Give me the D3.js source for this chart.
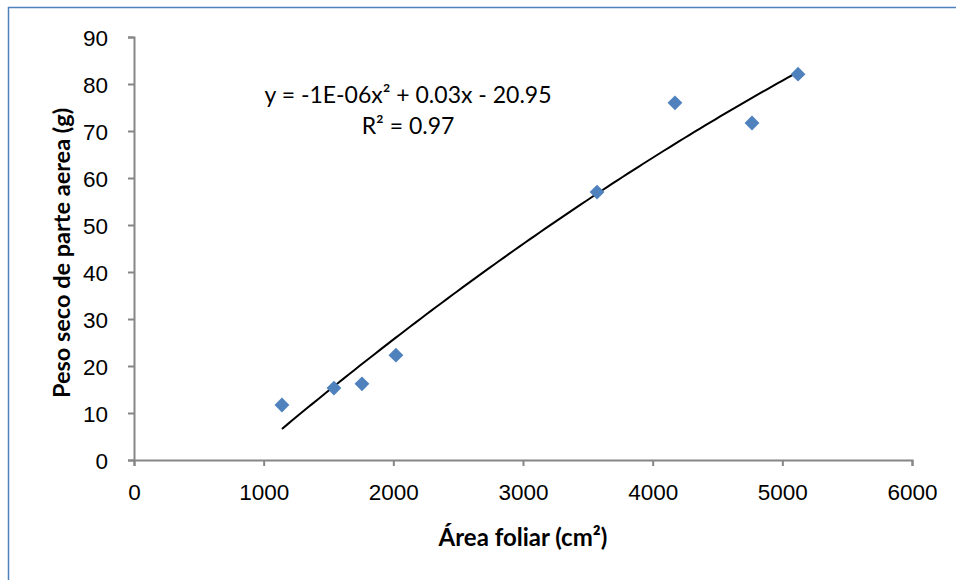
<!DOCTYPE html>
<html>
<head>
<meta charset="utf-8">
<script src="https://cdn.jsdelivr.net/npm/d3@7"></script>
<style>
  body { margin: 0; background: #fff; }
  svg { font-family: Lato, "Open Sans", sans-serif; }
</style>
</head>
<body>
<svg width="956" height="580"></svg>
<script>
// leaf area (cm2) vs shoot dry weight (g)
let areaFoliar = [1141, 1542, 1758, 2020, 3571, 4172, 4766, 5121];
let pesoSeco = [11.7, 15.3, 16.2, 22.3, 57.0, 76.0, 71.7, 82.1];
let xTicks = [0, 1000, 2000, 3000, 4000, 5000, 6000];
let yTicks = [0, 10, 20, 30, 40, 50, 60, 70, 80, 90];
let eqText = ['y = -1E-06x\u00b2 + 0.03x - 20.95', 'R\u00b2 = 0.97'];

let svg = d3.select('svg');
let w = 956, h = 580;
let padL = 134, padR = 912, padT = 37, padB = 460;
let axisColor = '#868686';
let blue = '#4f81bd';

// chart frame
svg.append('path')
  .attr('d', 'M8.5,' + h + 'V7.5H' + w)
  .attr('fill', 'none')
  .attr('stroke', blue)
  .attr('stroke-width', 1.5);

let xScale = d3.scaleLinear().domain([0, 6000]).range([padL, padR]);
let yScale = d3.scaleLinear().domain([0, 90]).range([padB, padT]);

let xAxis = d3.axisBottom(xScale).tickValues(xTicks).tickSize(6).tickPadding(18).tickFormat(d3.format('d'));
let yAxis = d3.axisLeft(yScale).tickValues(yTicks).tickSize(6).tickPadding(20).tickFormat(d3.format('d'));

let gx = svg.append('g')
  .attr('transform', 'translate(0,' + padB + ')')
  .call(xAxis);
let gy = svg.append('g')
  .attr('transform', 'translate(' + padL + ',0)')
  .call(yAxis);

[gx, gy].forEach(g => {
  g.select('.domain').attr('stroke', axisColor).attr('stroke-width', 2);
  g.selectAll('.tick line').attr('stroke', axisColor).attr('stroke-width', 2);
  g.selectAll('.tick text').attr('fill', '#000').attr('font-size', 22.5);
});
gy.selectAll('.tick text').attr('dy', '0.36em');

// quadratic least squares trendline
let n = areaFoliar.length;
let s = [0, 0, 0, 0, 0], t = [0, 0, 0];
for (let i = 0; i < n; i++) {
  let x = areaFoliar[i] / 1000, y = pesoSeco[i];
  for (let k = 0; k < 5; k++) s[k] += Math.pow(x, k);
  for (let k = 0; k < 3; k++) t[k] += y * Math.pow(x, k);
}
let M = [[s[0], s[1], s[2], t[0]], [s[1], s[2], s[3], t[1]], [s[2], s[3], s[4], t[2]]];
for (let i = 0; i < 3; i++) {
  for (let j = i + 1; j < 3; j++) {
    let f = M[j][i] / M[i][i];
    for (let k = i; k < 4; k++) M[j][k] -= f * M[i][k];
  }
}
let coef = [0, 0, 0];
for (let i = 2; i >= 0; i--) {
  let v = M[i][3];
  for (let k = i + 1; k < 3; k++) v -= M[i][k] * coef[k];
  coef[i] = v / M[i][i];
}
let fit = x => coef[0] + coef[1] * (x / 1000) + coef[2] * Math.pow(x / 1000, 2);
let x0 = d3.min(areaFoliar), x1 = d3.max(areaFoliar);
let trend = d3.range(0, 101).map(i => x0 + (x1 - x0) * i / 100);

svg.append('path')
  .datum(trend)
  .attr('fill', 'none')
  .attr('stroke', '#000')
  .attr('stroke-width', 2)
  .attr('d', d3.line().x(d => xScale(d)).y(d => yScale(fit(d))));

// markers
svg.selectAll('.pt')
  .data(areaFoliar)
  .enter()
  .append('path')
  .attr('class', 'pt')
  .attr('d', d3.symbol().type(d3.symbolSquare).size(110))
  .attr('fill', blue)
  .attr('transform', (d, i) => 'translate(' + xScale(d) + ',' + yScale(pesoSeco[i]) + ') rotate(45)');

// equation
svg.selectAll('.eq')
  .data(eqText)
  .enter()
  .append('text')
  .attr('class', 'eq')
  .attr('x', 408)
  .attr('y', (d, i) => 103 + i * 31)
  .attr('text-anchor', 'middle')
  .attr('font-size', 23)
  .text(d => d);

// axis titles
svg.append('text')
  .attr('x', 523)
  .attr('y', 546)
  .attr('text-anchor', 'middle')
  .attr('font-size', 24)
  .attr('font-weight', 'bold')
  .text('\u00c1rea foliar (cm\u00b2)');

svg.append('text')
  .attr('transform', 'translate(70,253) rotate(-90)')
  .attr('text-anchor', 'middle')
  .attr('font-size', 23.5)
  .attr('font-weight', 'bold')
  .text('Peso seco de parte aerea (g)');
</script>
</body>
</html>
